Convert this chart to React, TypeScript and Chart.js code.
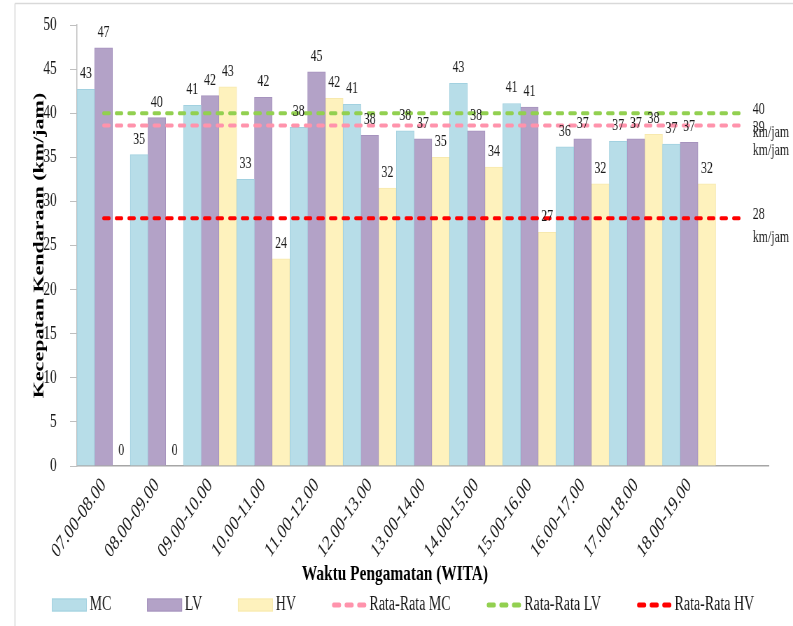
import React, { useEffect, useRef } from 'react';
import { Chart, registerables } from 'chart.js';

Chart.register(...registerables);

// ---------- data ----------
const categories = [
  '07.00-08.00', '08.00-09.00', '09.00-10.00', '10.00-11.00', '11.00-12.00', '12.00-13.00',
  '13.00-14.00', '14.00-15.00', '15.00-16.00', '16.00-17.00', '17.00-18.00', '18.00-19.00', '',
];
const mcSpeeds = [42.7, 35.3, 40.9, 32.5, 38.4, 41.0, 38.0, 43.4, 41.1, 36.2, 36.8, 36.5];
const lvSpeeds = [47.4, 39.5, 42.0, 41.8, 44.7, 37.5, 37.1, 38.0, 40.7, 37.1, 37.1, 36.7];
const hvSpeeds = [0, 0, 43.0, 23.5, 41.7, 31.5, 35.0, 33.9, 26.5, 32.0, 37.6, 32.0];
const avgMcLine = [38.6, 38.6, 38.6, 38.6, 38.6, 38.6, 38.6, 38.6, 38.6, 38.6, 38.6, 38.6, 38.6];
const avgLvLine = [40.0, 40.0, 40.0, 40.0, 40.0, 40.0, 40.0, 40.0, 40.0, 40.0, 40.0, 40.0, 40.0];
const avgHvLine = [28.1, 28.1, 28.1, 28.1, 28.1, 28.1, 28.1, 28.1, 28.1, 28.1, 28.1, 28.1, 28.1];
const seriesNames = ['MC', 'LV', 'HV', 'Rata-Rata MC', 'Rata-Rata LV', 'Rata-Rata HV'];
const unitLabel = 'km/jam';
const yTitle = 'Kecepatan Kendaraan (km/jam)';
const xTitle = 'Waktu Pengamatan (WITA)';
const yMin = 0;
const yMax = 50;
const yStep = 5;

// ---------- layout / style ----------
const SX = 0.7; // the reference is horizontally condensed
const W = 793;
const H = 626;
const LW = Math.round(W / SX);
const SERIF = '"Liberation Serif", "Times New Roman", serif';

const framePlugin = {
  id: 'frame',
  beforeDraw(chart: any) {
    const ctx = chart.ctx;
    ctx.save();
    ctx.fillStyle = '#ffffff';
    ctx.fillRect(0, 0, chart.width, chart.height);
    ctx.strokeStyle = '#d9d9d9';
    ctx.lineWidth = 1.6;
    ctx.beginPath();
    ctx.moveTo(21.4, 3.5);
    ctx.lineTo(21.4, chart.height);
    ctx.stroke();
    ctx.lineWidth = 1.5;
    ctx.beginPath();
    ctx.moveTo(21.4, 3.5);
    ctx.lineTo(chart.width, 3.5);
    ctx.stroke();
    ctx.restore();
  },
};

const labelPlugin = {
  id: 'valueLabels',
  afterDatasetsDraw(chart: any) {
    const ctx = chart.ctx;
    ctx.save();
    ctx.font = `17px ${SERIF}`;
    ctx.fillStyle = '#1a1a1a';
    chart.data.datasets.forEach((ds: any, i: number) => {
      const meta = chart.getDatasetMeta(i);
      if (meta.type === 'bar') {
        ctx.textAlign = 'center';
        ctx.textBaseline = 'alphabetic';
        meta.data.forEach((el: any, j: number) => {
          const v = ds.data[j];
          if (v === null || v === undefined) return;
          ctx.fillText(String(Math.round(v)), el.x, el.y - 11);
        });
      } else {
        const n = meta.data.length;
        const el = meta.data[n - 1];
        const v = ds.data[n - 1];
        const dy = ds.endLabelShift || 0;
        ctx.textAlign = 'left';
        ctx.textBaseline = 'middle';
        ctx.fillText(String(Math.round(v)), el.x + 15, el.y - 4 + dy);
        ctx.fillText(unitLabel, el.x + 15, el.y + 19 + dy);
      }
    });
    ctx.restore();
  },
};

const legendPlugin = {
  id: 'customLegend',
  afterDraw(chart: any) {
    const ctx = chart.ctx;
    ctx.save();
    ctx.font = `20px ${SERIF}`;
    ctx.textBaseline = 'middle';
    ctx.textAlign = 'left';
    const cy = 605;
    const boxW = 50;
    const gap = 4;
    const pad = 51;
    let x = 74;
    chart.data.datasets.forEach((ds: any) => {
      if (ds.type === 'line') {
        ctx.strokeStyle = ds.borderColor;
        ctx.lineWidth = 5;
        ctx.lineCap = 'round';
        ctx.setLineDash([8, 10]);
        ctx.beginPath();
        ctx.moveTo(x + 3, cy);
        ctx.lineTo(x + boxW, cy);
        ctx.stroke();
        ctx.setLineDash([]);
      } else {
        ctx.fillStyle = ds.backgroundColor;
        ctx.fillRect(x, cy - 6.5, boxW, 13);
        ctx.strokeStyle = ds.borderColor;
        ctx.lineWidth = 1;
        ctx.strokeRect(x + 0.5, cy - 6, boxW - 1, 12);
      }
      ctx.fillStyle = '#1a1a1a';
      const tx = x + boxW + gap;
      ctx.fillText(ds.label, tx, cy);
      x = tx + ctx.measureText(ds.label).width + pad;
    });
    ctx.restore();
  },
};

export default function App() {
  const canvasRef = useRef<HTMLCanvasElement | null>(null);

  useEffect(() => {
    const canvas = canvasRef.current;
    if (!canvas) return;
    const lineCommon = {
      type: 'line' as const,
      pointRadius: 0,
      pointHoverRadius: 0,
      borderWidth: 4,
      borderDash: [8, 10],
      borderCapStyle: 'round' as const,
      fill: false,
      order: 0,
    };
    const chart = new Chart(canvas, {
      type: 'bar',
      data: {
        labels: categories,
        datasets: [
          {
            type: 'bar', label: seriesNames[0], data: mcSpeeds,
            backgroundColor: '#B7DDE8', borderColor: '#A2D1E0', borderWidth: 1, order: 1,
          },
          {
            type: 'bar', label: seriesNames[1], data: lvSpeeds,
            backgroundColor: '#B3A2C7', borderColor: '#A693BE', borderWidth: 1, order: 1,
          },
          {
            type: 'bar', label: seriesNames[2], data: hvSpeeds,
            backgroundColor: '#FEF2BD', borderColor: '#F7E9AE', borderWidth: 1, order: 1,
          },
          { ...lineCommon, label: seriesNames[3], data: avgMcLine, borderColor: '#FF93AC', endLabelShift: 6 },
          { ...lineCommon, label: seriesNames[4], data: avgLvLine, borderColor: '#92D050' },
          { ...lineCommon, label: seriesNames[5], data: avgHvLine, borderColor: '#FF0000' },
        ] as any,
      },
      options: {
        responsive: false,
        animation: false,
        devicePixelRatio: 1,
        layout: { padding: { left: 30, right: LW - 1098.6, top: 25, bottom: 36 } },
        datasets: {
          bar: { categoryPercentage: 1, barPercentage: 1 },
        },
        plugins: {
          legend: { display: false },
          tooltip: { enabled: false },
          title: {
            display: true,
            position: 'bottom',
            text: xTitle,
            color: '#000',
            font: { family: SERIF, size: 22, weight: 'bold' },
            padding: { top: 2, bottom: 2 },
          },
        },
        scales: {
          x: {
            offset: true,
            grid: { display: true, drawOnChartArea: false, drawTicks: false },
            border: { display: true, color: '#a6a6a6', width: 1.5 },
            ticks: {
              autoSkip: false,
              minRotation: 46,
              maxRotation: 46,
              padding: 7,
              color: '#1a1a1a',
              font: { family: SERIF, size: 21 },
            },
            afterFit: (scale: any) => { scale.height = 93.6; },
          },
          y: {
            min: yMin,
            max: yMax,
            ticks: {
              stepSize: yStep,
              padding: 19,
              color: '#1a1a1a',
              font: { family: SERIF, size: 19 },
            },
            grid: { display: true, drawOnChartArea: false, drawTicks: true, tickLength: 10, color: '#bfbfbf' },
            border: { display: true, color: '#bfbfbf', width: 1.5 },
            title: {
              display: true,
              text: yTitle,
              color: '#000',
              font: { family: SERIF, size: 22, weight: 'bold' },
              padding: { top: 12.8, bottom: 0 },
            },
            afterFit: (scale: any) => {
              scale.width = 80;
              scale.paddingTop = 11;
              scale.paddingBottom = 11;
            },
          },
        },
      },
      plugins: [framePlugin, labelPlugin, legendPlugin],
    });
    return () => chart.destroy();
  }, []);

  return (
    <div style={{ position: 'fixed', left: 0, top: 0, width: W, height: H, overflow: 'hidden', background: '#fff' }}>
      <canvas
        ref={canvasRef}
        width={LW}
        height={H}
        style={{ width: `${W}px`, height: `${H}px`, display: 'block' }}
      />
    </div>
  );
}
